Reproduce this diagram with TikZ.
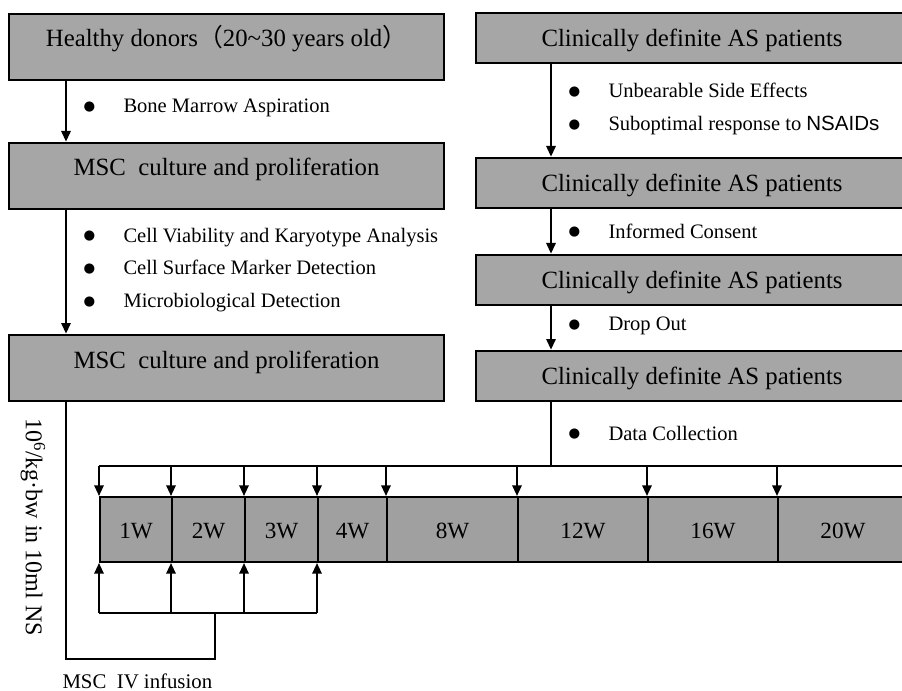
\documentclass[tikz,border=0pt]{standalone}
\usepackage{fontspec}
\setmainfont{Liberation Serif}
\newfontfamily\cjk{Noto Sans CJK SC}
\newfontfamily\arialfont{Liberation Sans}
\newfontfamily\symfont{DejaVu Sans}
\usetikzlibrary{arrows.meta}
\definecolor{boxgray}{RGB}{166,166,166}
\definecolor{cellgray}{RGB}{160,160,160}
\newcommand\itm[1]{\makebox[30pt][l]{\raisebox{1.6pt}{\symfont\fontsize{10}{0}\selectfont ●}}#1}
\tikzset{every picture/.style={line width=0.75pt}}
\tikzset{
  stagebox/.style={draw=black, line width=2pt, fill=boxgray, inner sep=0pt, font=\fontsize{18.6}{22}\selectfont},
  leftstage/.style={stagebox, minimum width=326.25pt, minimum height=49.5pt, text height=7pt, text depth=7pt},
  rightstage/.style={stagebox, minimum width=324pt, minimum height=37.5pt, text height=13pt, text depth=0pt},
  weekcell/.style={draw=black, line width=1.5pt, fill=cellgray, inner sep=0pt, minimum height=48.75pt, text height=12.8pt, text depth=0pt, font=\fontsize{17.4}{20}\selectfont},
  itemlist/.style={anchor=west, align=left, inner sep=0pt, font=\fontsize{15.4}{24.6}\selectfont},
  flow/.style={line width=1.5pt, -{Triangle[length=8pt,width=7pt]}},
  plain/.style={line width=1.5pt}
}

\begin{document}
\begin{tikzpicture}[x=0.75pt,y=0.75pt,yscale=-1,xscale=1]
\clip (0,0) rectangle (902,691);

%Donor side
\node[leftstage] (L1) at (226.5,47) {Healthy donors{\cjk （}20\textasciitilde30 years old{\cjk ）}};
\node[leftstage] (L2) at (226.5,176) {MSC\ \ culture and proliferation};
\node[leftstage] (L3) at (226.5,368) {MSC\ \ culture and proliferation};

%Patient side
\node[rightstage] (R1) at (692,38) {Clinically definite AS patients};
\node[rightstage] (R2) at (692,183) {Clinically definite AS patients};
\node[rightstage] (R3) at (692,280) {Clinically definite AS patients};
\node[rightstage] (R4) at (692,376) {Clinically definite AS patients};

%Spines
\coordinate (lspine) at (66,0);
\coordinate (rspine) at (551,0);

\draw[flow] (lspine |- L1.south) -- (lspine |- L2.north);
\draw[flow] (lspine |- L2.south) -- (lspine |- L3.north);
\draw[flow] (rspine |- R1.south) -- (rspine |- R2.north);
\draw[flow] (rspine |- R2.south) -- (rspine |- R3.north);
\draw[flow] (rspine |- R3.south) -- (rspine |- R4.north);

% Text Node
\node[itemlist] (aspiration) at (83,108) {\itm{Bone Marrow Aspiration}};
\node[itemlist] (qc) at (83,270) {\itm{Cell Viability and Karyotype Analysis}\\\itm{Cell Surface Marker Detection}\\\itm{Microbiological Detection}};
\node[itemlist] (exclusion) at (568,109) {\itm{Unbearable Side Effects}\\\itm{Suboptimal response to {\arialfont NSAIDs}}};
\node[itemlist] (consent) at (568,231) {\itm{Informed Consent}};
\node[itemlist] (dropout) at (568,326) {\itm{Drop Out}};
\node[itemlist] (collection) at (568,433) {\itm{Data Collection}};

%Timeline
\foreach \name/\xa/\xb/\wk in {w1/100/172/1W, w2/172/245/2W, w3/245/318/3W, w4/318/387/4W, w5/387/518/8W, w6/518/648/12W, w7/648/778/16W, w8/778/908/20W}
  \node[weekcell, minimum width={(\xb-\xa)*0.75pt}] (\name) at ({(\xa+\xb)/2},529.5) {\wk};

\coordinate (bus) at (0,466);
\draw[plain] (rspine |- R4.south) -- (rspine |- bus);
\draw[plain] (w1.north west |- bus) -- (w8.north east |- bus);
\foreach \c in {w1,w2,w3,w4,w5,w6,w7,w8}
  \draw[flow] (\c.north west |- bus) -- (\c.north west);

%Infusion
\coordinate (feed) at (0,613);
\coordinate (hub) at (215,613);
\coordinate (loop) at (66,659);
\draw[plain] (w1.south west |- feed) -- (w4.south west |- feed);
\foreach \c in {w1,w2,w3,w4}
  \draw[flow] (\c.south west |- feed) -- (\c.south west);
\draw[plain] (hub) -- (hub |- loop) -- (loop) -- (lspine |- L3.south);

% Text Node
\node[rotate=-90, inner sep=0pt, font=\fontsize{18}{20}\selectfont] (dose) at (33,527) {10\textsuperscript{6}/kg·bw in 10ml NS};
\node[anchor=west, inner sep=0pt, font=\fontsize{15.6}{18}\selectfont] (infusion) at (62,681) {MSC\ \ IV infusion};

\end{tikzpicture}
\end{document}
